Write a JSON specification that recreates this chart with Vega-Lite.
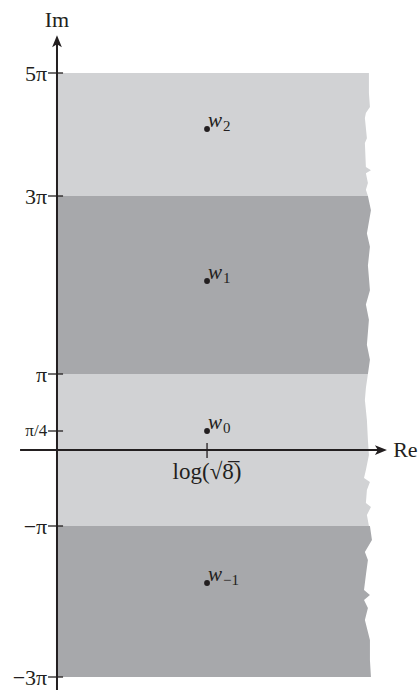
{
  "$schema": "https://vega.github.io/schema/vega-lite/v6.json",
  "width": 420,
  "height": 693,
  "padding": 0,
  "autosize": {"type": "none"},
  "background": "white",
  "config": {
    "view": {"stroke": null},
    "text": {"font": "Liberation Serif", "color": "#231f20"}
  },
  "datasets": {
    "edges": [
      {"band": "A", "shade": "light", "y": 5.0, "xe": 2.162},
      {"band": "A", "shade": "light", "y": 4.675, "xe": 2.162},
      {"band": "A", "shade": "light", "y": 4.447, "xe": 2.169},
      {"band": "A", "shade": "light", "y": 4.35, "xe": 2.141},
      {"band": "A", "shade": "light", "y": 4.27, "xe": 2.134},
      {"band": "A", "shade": "light", "y": 3.94, "xe": 2.148},
      {"band": "A", "shade": "light", "y": 3.86, "xe": 2.134},
      {"band": "A", "shade": "light", "y": 3.47, "xe": 2.141},
      {"band": "A", "shade": "light", "y": 3.42, "xe": 2.176},
      {"band": "A", "shade": "light", "y": 3.37, "xe": 2.141},
      {"band": "A", "shade": "light", "y": 3.21, "xe": 2.155},
      {"band": "A", "shade": "light", "y": 3.1, "xe": 2.141},
      {"band": "A", "shade": "light", "y": 3.0, "xe": 2.155},
      {"band": "B", "shade": "dark", "y": 3.0, "xe": 2.155},
      {"band": "B", "shade": "dark", "y": 2.84, "xe": 2.176},
      {"band": "B", "shade": "dark", "y": 2.58, "xe": 2.148},
      {"band": "B", "shade": "dark", "y": 2.43, "xe": 2.169},
      {"band": "B", "shade": "dark", "y": 2.22, "xe": 2.155},
      {"band": "B", "shade": "dark", "y": 1.94, "xe": 2.169},
      {"band": "B", "shade": "dark", "y": 1.78, "xe": 2.141},
      {"band": "B", "shade": "dark", "y": 1.61, "xe": 2.162},
      {"band": "B", "shade": "dark", "y": 1.33, "xe": 2.148},
      {"band": "B", "shade": "dark", "y": 1.16, "xe": 2.169},
      {"band": "B", "shade": "dark", "y": 1.0, "xe": 2.155},
      {"band": "C", "shade": "light", "y": 1.0, "xe": 2.155},
      {"band": "C", "shade": "light", "y": 0.816, "xe": 2.141},
      {"band": "C", "shade": "light", "y": 0.658, "xe": 2.134},
      {"band": "C", "shade": "light", "y": 0.395, "xe": 2.148},
      {"band": "C", "shade": "light", "y": 0.132, "xe": 2.155},
      {"band": "C", "shade": "light", "y": -0.066, "xe": 2.162},
      {"band": "C", "shade": "light", "y": -0.263, "xe": 2.141},
      {"band": "C", "shade": "light", "y": -0.368, "xe": 2.128},
      {"band": "C", "shade": "light", "y": -0.421, "xe": 2.169},
      {"band": "C", "shade": "light", "y": -0.526, "xe": 2.148},
      {"band": "C", "shade": "light", "y": -0.697, "xe": 2.141},
      {"band": "C", "shade": "light", "y": -0.75, "xe": 2.176},
      {"band": "C", "shade": "light", "y": -0.855, "xe": 2.148},
      {"band": "C", "shade": "light", "y": -1.0, "xe": 2.162},
      {"band": "D", "shade": "dark", "y": -1.0, "xe": 2.169},
      {"band": "D", "shade": "dark", "y": -1.185, "xe": 2.183},
      {"band": "D", "shade": "dark", "y": -1.344, "xe": 2.134},
      {"band": "D", "shade": "dark", "y": -1.45, "xe": 2.155},
      {"band": "D", "shade": "dark", "y": -1.649, "xe": 2.141},
      {"band": "D", "shade": "dark", "y": -1.848, "xe": 2.128},
      {"band": "D", "shade": "dark", "y": -1.914, "xe": 2.169},
      {"band": "D", "shade": "dark", "y": -1.98, "xe": 2.128},
      {"band": "D", "shade": "dark", "y": -2.086, "xe": 2.155},
      {"band": "D", "shade": "dark", "y": -2.245, "xe": 2.134},
      {"band": "D", "shade": "dark", "y": -2.51, "xe": 2.169},
      {"band": "D", "shade": "dark", "y": -2.775, "xe": 2.169},
      {"band": "D", "shade": "dark", "y": -3.0, "xe": 2.176}
    ],
    "yticks": [
      {"v": 5, "label": "5π"},
      {"v": 3, "label": "3π"},
      {"v": 1, "label": "π"},
      {"v": 0.25, "label": "π/4"},
      {"v": -1, "label": "−π"},
      {"v": -3, "label": "−3π"}
    ],
    "points": [
      {"re": 1.04, "y": 4.09, "sub": "2"},
      {"re": 1.04, "y": 2.045, "sub": "1"},
      {"re": 1.04, "y": 0.25, "sub": "0"},
      {"re": 1.04, "y": -1.755, "sub": "−1"}
    ],
    "one": [{"k": 1}]
  },
  "data": {"name": "one"},
  "layer": [
    {
      "data": {"name": "edges"},
      "mark": {"type": "area", "orient": "horizontal", "opacity": 1},
      "encoding": {
        "y": {"field": "y", "type": "quantitative", "axis": null,
              "scale": {"domain": [-3.21, -3, -1, 0, 1, 3, 5, 6.19], "range": [693, 677, 526, 450, 374, 196, 73, 0], "zero": false, "nice": false}},
        "x": {"field": "xe", "type": "quantitative", "axis": null, "stack": null,
              "scale": {"domain": [-0.395, 2.516], "zero": false, "nice": false}},
        "x2": {"datum": 0},
        "detail": {"field": "band"},
        "color": {"field": "shade", "type": "nominal", "legend": null,
                  "scale": {"domain": ["light", "dark"], "range": ["#d1d2d4", "#a7a8ab"]}}
      }
    },
    {
      "mark": {"type": "rule", "color": "#231f20", "strokeWidth": 2},
      "encoding": {
        "x": {"datum": 0, "type": "quantitative"},
        "y": {"datum": -3.17, "type": "quantitative"},
        "y2": {"datum": 5.51}
      }
    },
    {
      "mark": {"type": "rule", "color": "#231f20", "strokeWidth": 2},
      "encoding": {
        "y": {"datum": 0, "type": "quantitative"},
        "x": {"datum": -0.256, "type": "quantitative"},
        "x2": {"datum": 2.242}
      }
    },
    {
      "mark": {"type": "point", "shape": "M0,-1L0.75,0.85L0,0.4L-0.75,0.85Z", "filled": true, "opacity": 1, "color": "#231f20", "size": 169},
      "encoding": {
        "x": {"datum": 0, "type": "quantitative"},
        "y": {"datum": 5.51, "type": "quantitative"}
      }
    },
    {
      "mark": {"type": "point", "shape": "M1,0L-0.85,-0.75L-0.4,0L-0.85,0.75Z", "filled": true, "opacity": 1, "color": "#231f20", "size": 169},
      "encoding": {
        "x": {"datum": 2.242, "type": "quantitative"},
        "y": {"datum": 0, "type": "quantitative"}
      }
    },
    {
      "data": {"name": "yticks"},
      "mark": {"type": "rule", "color": "#231f20", "strokeWidth": 1.3},
      "encoding": {
        "y": {"field": "v", "type": "quantitative"},
        "x": {"datum": -0.062, "type": "quantitative"},
        "x2": {"datum": 0.042}
      }
    },
    {
      "data": {"name": "yticks"},
      "transform": [{"filter": "datum.v != 0.25"}],
      "mark": {"type": "text", "align": "right", "baseline": "middle", "fontSize": 22, "dy": 1},
      "encoding": {
        "y": {"field": "v", "type": "quantitative"},
        "x": {"datum": -0.068, "type": "quantitative"},
        "text": {"field": "label"}
      }
    },
    {
      "data": {"name": "yticks"},
      "transform": [{"filter": "datum.v == 0.25"}],
      "mark": {"type": "text", "align": "right", "baseline": "middle", "fontSize": 17, "dy": 0},
      "encoding": {
        "y": {"field": "v", "type": "quantitative"},
        "x": {"datum": -0.068, "type": "quantitative"},
        "text": {"field": "label"}
      }
    },
    {
      "mark": {"type": "rule", "color": "#231f20", "strokeWidth": 1.3},
      "encoding": {
        "x": {"datum": 1.04, "type": "quantitative"},
        "y": {"datum": 0.092, "type": "quantitative"},
        "y2": {"datum": -0.105}
      }
    },
    {
      "mark": {"type": "text", "align": "center", "baseline": "middle", "fontSize": 23, "text": "log(√8̅)"},
      "encoding": {
        "x": {"datum": 1.04, "type": "quantitative"},
        "y": {"datum": -0.29, "type": "quantitative"}
      }
    },
    {
      "data": {"name": "points"},
      "mark": {"type": "point", "shape": "circle", "filled": true, "opacity": 1, "color": "#231f20", "size": 34},
      "encoding": {
        "x": {"field": "re", "type": "quantitative"},
        "y": {"field": "y", "type": "quantitative"}
      }
    },
    {
      "data": {"name": "points"},
      "mark": {"type": "text", "align": "left", "baseline": "alphabetic", "fontSize": 21, "fontStyle": "italic", "dx": 1, "dy": -2, "text": "w"},
      "encoding": {
        "x": {"field": "re", "type": "quantitative"},
        "y": {"field": "y", "type": "quantitative"}
      }
    },
    {
      "data": {"name": "points"},
      "mark": {"type": "text", "align": "left", "baseline": "alphabetic", "fontSize": 15, "dx": 16, "dy": 2},
      "encoding": {
        "x": {"field": "re", "type": "quantitative"},
        "y": {"field": "y", "type": "quantitative"},
        "text": {"field": "sub"}
      }
    },
    {
      "mark": {"type": "text", "align": "center", "baseline": "middle", "fontSize": 22, "text": "Im"},
      "encoding": {
        "x": {"datum": 0, "type": "quantitative"},
        "y": {"datum": 5.86, "type": "quantitative"}
      }
    },
    {
      "mark": {"type": "text", "align": "left", "baseline": "middle", "fontSize": 22, "text": "Re"},
      "encoding": {
        "x": {"datum": 2.33, "type": "quantitative"},
        "y": {"datum": 0, "type": "quantitative"}
      }
    }
  ]
}
